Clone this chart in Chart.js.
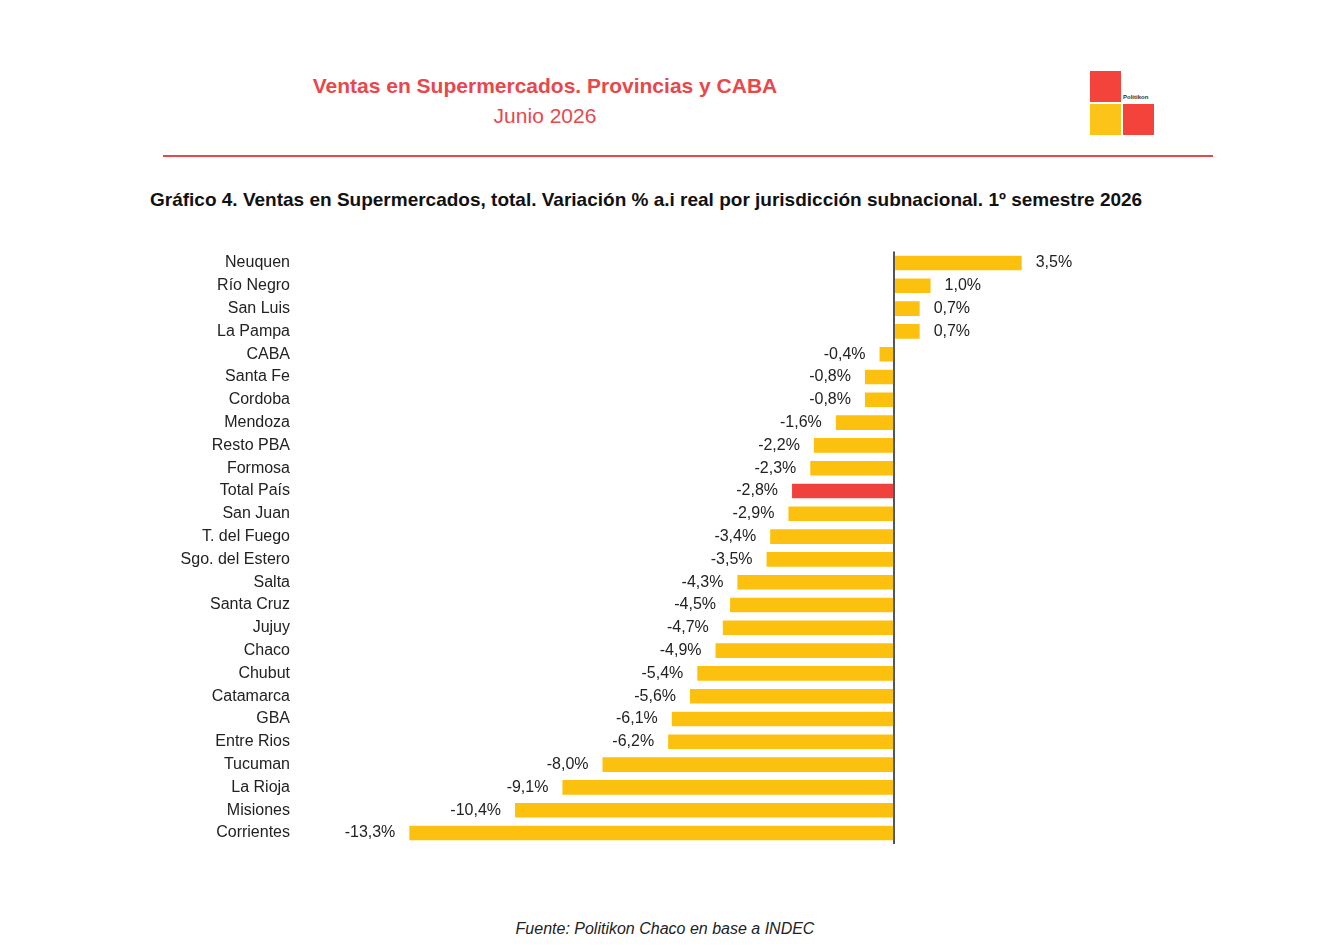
<!DOCTYPE html>
<html><head><meta charset="utf-8">
<script src="https://cdn.jsdelivr.net/npm/chart.js@4/dist/chart.umd.min.js"></script>
<style>
body{margin:0;background:#fff;font-family:"Liberation Sans",Arial,sans-serif;width:1330px;height:946px;position:relative;overflow:hidden}
.abs{position:absolute}
#t1{left:245px;width:600px;top:74px;text-align:center;color:#e8474c;font-weight:bold;font-size:21px}
#t2{left:245px;width:600px;top:104px;text-align:center;color:#e8474c;font-size:21px}
#rule{left:163px;top:155px;width:1050px;height:2px;background:#e8474c}
#sub{left:150px;top:189px;font-weight:bold;font-size:19px;color:#111}
#foot{left:0;width:1330px;top:920px;text-align:center;font-style:italic;font-size:16px;color:#222}
.sq{width:31px;height:31px}
</style></head><body>
<div id="t1" class="abs">Ventas en Supermercados. Provincias y CABA</div>
<div id="t2" class="abs">Junio 2026</div>
<div class="abs sq" style="left:1090px;top:71px;background:#f4433a"></div>
<div class="abs sq" style="left:1090px;top:104px;background:#fcc419"></div>
<div class="abs sq" style="left:1123px;top:104px;background:#f4433a"></div>
<div class="abs" style="left:1123px;top:94px;font-size:6px;font-weight:bold;color:#333">Politikon</div>
<div id="rule" class="abs"></div>
<div id="sub" class="abs">Gráfico 4. Ventas en Supermercados, total. Variación % a.i real por jurisdicción subnacional. 1º semestre 2026</div>
<div class="abs" style="left:150px;top:240px;width:930px;height:616px"><canvas id="c"></canvas></div>
<div id="foot" class="abs">Fuente: Politikon Chaco en base a INDEC</div>
<script>
const jurisdicciones = ['Neuquen','Río Negro','San Luis','La Pampa','CABA','Santa Fe','Cordoba','Mendoza','Resto PBA','Formosa','Total País','San Juan','T. del Fuego','Sgo. del Estero','Salta','Santa Cruz','Jujuy','Chaco','Chubut','Catamarca','GBA','Entre Rios','Tucuman','La Rioja','Misiones','Corrientes'];
const variacion = [3.5,1.0,0.7,0.7,-0.4,-0.8,-0.8,-1.6,-2.2,-2.3,-2.8,-2.9,-3.4,-3.5,-4.3,-4.5,-4.7,-4.9,-5.4,-5.6,-6.1,-6.2,-8.0,-9.1,-10.4,-13.3];
const destacado = 'Total País';

const valueLabels = {
  id: 'valueLabels',
  afterDatasetsDraw(chart) {
    const ctx = chart.ctx;
    const meta = chart.getDatasetMeta(0);
    ctx.save();
    ctx.font = '16px "Liberation Sans", Arial, sans-serif';
    ctx.fillStyle = '#222';
    ctx.textBaseline = 'middle';
    meta.data.forEach((bar, i) => {
      const v = variacion[i];
      const txt = v.toFixed(1).replace('.', ',') + '%';
      if (v >= 0) { ctx.textAlign = 'left'; ctx.fillText(txt, bar.x + 14, bar.y); }
      else { ctx.textAlign = 'right'; ctx.fillText(txt, bar.x - 14, bar.y); }
    });
    ctx.restore();
  }
};

new Chart(document.getElementById('c'), {
  type: 'bar',
  data: {
    labels: jurisdicciones,
    datasets: [{
      data: variacion,
      backgroundColor: jurisdicciones.map(j => j === destacado ? '#f0413d' : '#fcc10f'),
      barPercentage: 0.64,
      categoryPercentage: 1
    }]
  },
  options: {
    indexAxis: 'y',
    responsive: true,
    maintainAspectRatio: false,
    animation: false,
    layout: { padding: { top: 6, bottom: 0 } },
    plugins: { legend: { display: false }, tooltip: { enabled: false } },
    scales: {
      x: {
        min: -16.3, max: 5.1,
        ticks: { display: false },
        border: { display: false },
        grid: { drawTicks: false, lineWidth: 2, color: c => c.tick && c.tick.value === 0 ? '#555' : 'transparent' }
      },
      y: {
        afterFit: s => { s.width = 150; },
        border: { display: false },
        grid: { display: false },
        ticks: { padding: 2, color: '#222', font: { family: '"Liberation Sans", Arial, sans-serif', size: 16 } }
      }
    }
  },
  plugins: [valueLabels]
});
</script>
</body></html>
